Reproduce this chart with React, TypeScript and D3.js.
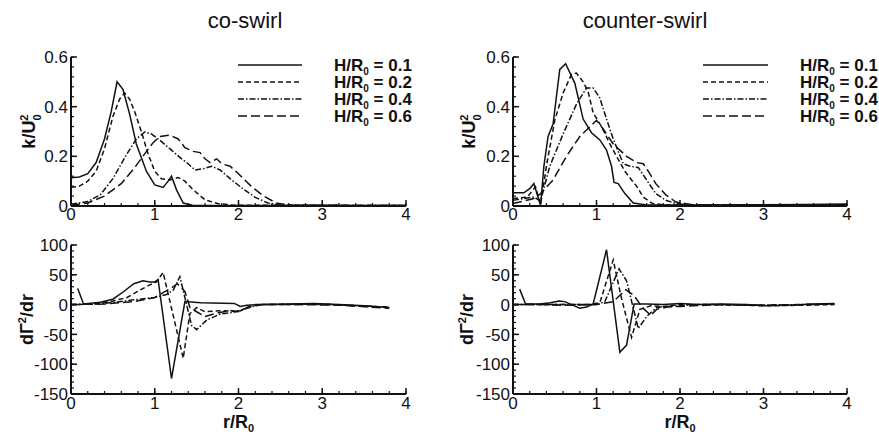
import React from "react";
import * as d3 from "d3";

type Pt = [number, number];

// panel titles, legend and axis ticks
const panelTitles = ["co-swirl", "counter-swirl"];
const legendValues = ["0.1", "0.2", "0.4", "0.6"];
const dashStyles = ["none", "5,3", "6,2,1.5,2", "9,4"];
const rTicks = [0, 1, 2, 3, 4];
const kTicks = [0, 0.2, 0.4, 0.6];
const gTicks = [-150, -100, -50, 0, 50, 100];

// co-swirl, k/U0^2 vs r/R0
const coK01: Pt[] = [[0, 0.114], [0.1, 0.117], [0.2, 0.13], [0.3, 0.175], [0.4, 0.27], [0.48, 0.38], [0.55, 0.5], [0.62, 0.47], [0.7, 0.37], [0.78, 0.25], [0.9, 0.14], [1.0, 0.085], [1.1, 0.075], [1.16, 0.1], [1.2, 0.12], [1.26, 0.065], [1.34, 0.012], [1.45, 0.003], [2, 0.002], [3, 0.002], [4, 0.002]];
const coK02: Pt[] = [[0, 0.075], [0.1, 0.08], [0.2, 0.1], [0.3, 0.14], [0.4, 0.23], [0.5, 0.36], [0.58, 0.43], [0.64, 0.455], [0.7, 0.43], [0.76, 0.38], [0.84, 0.3], [0.92, 0.21], [1.0, 0.14], [1.08, 0.11], [1.18, 0.105], [1.28, 0.115], [1.36, 0.1], [1.46, 0.065], [1.6, 0.025], [1.75, 0.01], [1.95, 0.003], [4, 0.002]];
const coK04: Pt[] = [[0, 0.007], [0.2, 0.018], [0.35, 0.045], [0.5, 0.11], [0.65, 0.2], [0.78, 0.27], [0.88, 0.298], [0.96, 0.29], [1.06, 0.265], [1.2, 0.225], [1.32, 0.19], [1.4, 0.17], [1.48, 0.145], [1.58, 0.15], [1.68, 0.16], [1.78, 0.145], [1.9, 0.11], [2.05, 0.07], [2.2, 0.035], [2.35, 0.012], [2.5, 0.003], [4, 0.002]];
const coK06: Pt[] = [[0, 0.003], [0.2, 0.012], [0.4, 0.04], [0.6, 0.09], [0.75, 0.15], [0.88, 0.21], [0.98, 0.255], [1.06, 0.28], [1.18, 0.285], [1.28, 0.27], [1.36, 0.235], [1.46, 0.22], [1.54, 0.215], [1.6, 0.19], [1.66, 0.175], [1.74, 0.19], [1.8, 0.17], [1.9, 0.16], [2.0, 0.13], [2.15, 0.08], [2.3, 0.04], [2.45, 0.012], [2.6, 0.003], [4, 0.002]];

// counter-swirl, k/U0^2 vs r/R0
const ctK01: Pt[] = [[0, 0.053], [0.13, 0.053], [0.2, 0.07], [0.25, 0.09], [0.33, 0.003], [0.37, 0.16], [0.42, 0.28], [0.48, 0.33], [0.56, 0.55], [0.63, 0.573], [0.74, 0.495], [0.84, 0.35], [0.94, 0.295], [1.04, 0.266], [1.12, 0.225], [1.18, 0.16], [1.21, 0.095], [1.26, 0.09], [1.34, 0.05], [1.44, 0.012], [1.6, 0.004], [2.5, 0.004], [3.5, 0.006], [4, 0.008]];
const ctK02: Pt[] = [[0, 0.03], [0.17, 0.036], [0.27, 0.077], [0.33, 0.005], [0.4, 0.16], [0.5, 0.345], [0.6, 0.455], [0.7, 0.53], [0.76, 0.535], [0.84, 0.5], [0.9, 0.46], [0.96, 0.375], [1.06, 0.32], [1.16, 0.25], [1.24, 0.2], [1.34, 0.14], [1.42, 0.105], [1.48, 0.08], [1.56, 0.036], [1.67, 0.01], [1.83, 0.004], [4, 0.004]];
const ctK04: Pt[] = [[0, 0.023], [0.25, 0.036], [0.33, 0.02], [0.44, 0.16], [0.6, 0.29], [0.76, 0.41], [0.88, 0.475], [0.96, 0.475], [1.04, 0.435], [1.12, 0.35], [1.2, 0.27], [1.32, 0.17], [1.4, 0.16], [1.5, 0.155], [1.6, 0.105], [1.71, 0.05], [1.83, 0.023], [1.95, 0.01], [2.15, 0.004], [4, 0.004]];
const ctK06: Pt[] = [[0, 0.01], [0.25, 0.03], [0.33, 0.05], [0.48, 0.105], [0.64, 0.2], [0.8, 0.28], [0.94, 0.325], [1.0, 0.345], [1.08, 0.31], [1.2, 0.25], [1.28, 0.225], [1.36, 0.2], [1.48, 0.175], [1.56, 0.17], [1.62, 0.14], [1.71, 0.09], [1.83, 0.045], [1.95, 0.016], [2.15, 0.005], [4, 0.004]];

// co-swirl, dGamma^2/dr vs r/R0
const coG01: Pt[] = [[0.08, 27], [0.15, 1], [0.35, 4], [0.5, 9], [0.63, 22], [0.75, 35], [0.86, 40], [0.94, 38], [1.0, 38], [1.04, 42], [1.2, -124], [1.36, 5], [1.55, 3], [1.95, 2], [2.02, -3], [2.1, -1], [2.3, 0], [2.6, 1], [2.9, 2], [3.2, 0], [3.5, -2], [3.8, -5]];
const coG02: Pt[] = [[0, 0], [0.3, 1], [0.5, 6], [0.67, 12], [0.82, 24], [0.94, 33], [1.02, 38], [1.1, 54], [1.34, -90], [1.42, -15], [1.5, -5], [1.6, -12], [1.8, -10], [2.0, -12], [2.1, -5], [2.25, 0], [2.6, 0], [3.0, 1], [3.4, -2], [3.8, -4]];
const coG04: Pt[] = [[0, 0], [0.4, 2], [0.75, 8], [1.0, 12], [1.14, 17], [1.22, 24], [1.3, 47], [1.44, -35], [1.5, -42], [1.62, -26], [1.78, -16], [1.94, -13], [2.06, -8], [2.2, -2], [2.3, 0], [2.8, 1], [3.3, -1], [3.8, -5]];
const coG06: Pt[] = [[0, 0], [0.4, 1], [0.75, 5], [1.0, 12], [1.1, 20], [1.2, 28], [1.27, 35], [1.36, 22], [1.42, -5], [1.5, -12], [1.6, -20], [1.75, -14], [1.9, -10], [2.0, -12], [2.1, -5], [2.2, 0], [2.7, 0], [3.2, -1], [3.8, -6]];

// counter-swirl, dGamma^2/dr vs r/R0
const ctG01: Pt[] = [[0.08, 26], [0.15, 1], [0.32, 1], [0.45, 3], [0.55, 6], [0.62, 5], [0.7, 0], [0.8, -6], [0.88, -4], [0.96, 1], [1.12, 92], [1.28, -80], [1.36, -68], [1.45, 1], [1.6, 1], [1.8, 0], [2.0, 2], [2.2, 0], [2.5, 1], [2.8, 0], [3.0, -2], [3.3, -1], [3.6, 1], [3.85, 2]];
const ctG02: Pt[] = [[0, 0], [0.5, 0], [0.9, 0], [1.04, 3], [1.2, 75], [1.3, 10], [1.42, -55], [1.52, -8], [1.65, -2], [1.8, -3], [2.0, 0], [2.5, 0], [3.0, -2], [3.5, -1], [3.85, 0]];
const ctG04: Pt[] = [[0, 0], [1.0, 0], [1.1, 5], [1.27, 60], [1.36, 40], [1.5, -40], [1.6, -20], [1.72, -5], [1.85, -3], [2.2, 0], [2.8, -1], [3.4, 0], [3.85, 1]];
const ctG06: Pt[] = [[0, 0], [0.3, 0], [0.6, -1], [1.0, 0], [1.2, 5], [1.35, 25], [1.45, 15], [1.55, -5], [1.65, -18], [1.72, -8], [1.85, -4], [2.0, -3], [2.5, 0], [3.0, -1], [3.5, 0], [3.85, 1]];

const FONT = "'Liberation Sans', Arial, Helvetica, sans-serif";

type PanelProps = {
  xLeft: number;
  xRight: number;
  yTop: number;
  yBottom: number;
  domain: [number, number];
  ticks: number[];
  minorStep: number;
  fmt: (v: number) => string;
  series: Pt[][];
  yLabel: "k" | "g";
  labelX: number;
  xTickBaseline: number;
  showRLabel: boolean;
};

function Panel(p: PanelProps) {
  const x = d3.scaleLinear().domain([0, 4]).range([p.xLeft, p.xRight]);
  const y = d3.scaleLinear().domain(p.domain).range([p.yBottom, p.yTop]);
  const line = d3.line<Pt>().x((d) => x(d[0])).y((d) => y(d[1]));
  const xMinor = d3.range(0, 4.0001, 0.2);
  const yMinor = d3.range(p.domain[0], p.domain[1] + 1e-9, p.minorStep);
  const yMid = (p.yTop + p.yBottom) / 2;

  return (
    <g>
      {p.series.map((s, i) => (
        <path key={i} d={line(s) || ""} fill="none" stroke="#111" strokeWidth={1.5}
          strokeDasharray={dashStyles[i] === "none" ? undefined : dashStyles[i]} />
      ))}
      {/* axes */}
      <line x1={p.xLeft} x2={p.xRight} y1={p.yBottom} y2={p.yBottom} stroke="#111" strokeWidth={2} />
      <line x1={p.xLeft} x2={p.xLeft} y1={p.yTop} y2={p.yBottom} stroke="#111" strokeWidth={2} />
      {xMinor.map((v) => (
        <line key={"xm" + v} x1={x(v)} x2={x(v)} y1={p.yBottom} y2={p.yBottom - 3} stroke="#111" strokeWidth={1.2} />
      ))}
      {yMinor.map((v) => (
        <line key={"ym" + v} x1={p.xLeft} x2={p.xLeft + 3} y1={y(v)} y2={y(v)} stroke="#111" strokeWidth={1.2} />
      ))}
      {rTicks.map((v) => (
        <g key={"xt" + v}>
          <line x1={x(v)} x2={x(v)} y1={p.yBottom} y2={p.yBottom - 6} stroke="#111" strokeWidth={1.5} />
          <text x={x(v)} y={p.xTickBaseline} textAnchor="middle" fontSize={17} fontFamily={FONT} fill="#111">{v}</text>
        </g>
      ))}
      {p.ticks.map((v) => (
        <g key={"yt" + v}>
          <line x1={p.xLeft} x2={p.xLeft + 6} y1={y(v)} y2={y(v)} stroke="#111" strokeWidth={1.5} />
          <text x={p.xLeft - 3} y={y(v)} dy="0.36em" textAnchor="end" fontSize={17} fontFamily={FONT} fill="#111">{p.fmt(v)}</text>
        </g>
      ))}
      {/* y label */}
      <g transform={`translate(${p.labelX},${yMid}) rotate(-90)`}>
        {p.yLabel === "k" ? (
          <text textAnchor="middle" fontSize={18} fontWeight="bold" fontFamily={FONT} fill="#111">
            k/U<tspan fontSize={11} dy={-7}>2</tspan><tspan fontSize={11} dx={-6} dy={13}>0</tspan>
          </text>
        ) : (
          <text textAnchor="middle" fontSize={18} fontWeight="bold" fontFamily={FONT} fill="#111">
            dΓ<tspan fontSize={11} dy={-7}>2</tspan><tspan dy={7}>/dr</tspan>
          </text>
        )}
      </g>
      {p.showRLabel && (
        <text x={x(2)} y={428} textAnchor="middle" fontSize={18} fontWeight="bold" fontFamily={FONT} fill="#111">
          r/R<tspan fontSize={11} dy={4}>0</tspan>
        </text>
      )}
    </g>
  );
}

function Legend({ lineX0, lineX1, textX }: { lineX0: number; lineX1: number; textX: number }) {
  const rowY = d3.scaleLinear().domain([0, 3]).range([65, 116]);
  return (
    <g>
      {legendValues.map((v, i) => (
        <g key={v}>
          <line x1={lineX0} x2={lineX1} y1={rowY(i)} y2={rowY(i)} stroke="#111" strokeWidth={1.5}
            strokeDasharray={dashStyles[i] === "none" ? undefined : dashStyles[i]} />
          <text x={textX} y={rowY(i) + 6} fontSize={17} fontWeight="bold" fontFamily={FONT} fill="#111">
            H/R<tspan fontSize={10} dy={4}>0</tspan><tspan dy={-4}> = {v}</tspan>
          </text>
        </g>
      ))}
    </g>
  );
}

export default function App() {
  const fmtK = (v: number) => (v === 0 ? "0" : v.toFixed(1));
  const fmtG = (v: number) => String(v);
  return (
    <svg width={879} height={435} viewBox="0 0 879 435"
      style={{ position: "absolute", left: 0, top: 0, background: "#fff" }}>
      <rect width={879} height={435} fill="#fff" />
      <text x={245} y={28} textAnchor="middle" fontSize={22} fontFamily={FONT} fill="#111">{panelTitles[0]}</text>
      <text x={645} y={28} textAnchor="middle" fontSize={22} fontFamily={FONT} fill="#111">{panelTitles[1]}</text>

      <Panel xLeft={71} xRight={406} yTop={57} yBottom={206} domain={[0, 0.6]} ticks={kTicks} minorStep={0.04}
        fmt={fmtK} series={[coK01, coK02, coK04, coK06]} yLabel="k" labelX={35} xTickBaseline={220} showRLabel={false} />
      <Panel xLeft={513} xRight={847} yTop={57} yBottom={206} domain={[0, 0.6]} ticks={kTicks} minorStep={0.04}
        fmt={fmtK} series={[ctK01, ctK02, ctK04, ctK06]} yLabel="k" labelX={475} xTickBaseline={220} showRLabel={false} />
      <Panel xLeft={71} xRight={406} yTop={245} yBottom={394} domain={[-150, 100]} ticks={gTicks} minorStep={10}
        fmt={fmtG} series={[coG01, coG02, coG04, coG06]} yLabel="g" labelX={33} xTickBaseline={409} showRLabel={true} />
      <Panel xLeft={513} xRight={847} yTop={245} yBottom={394} domain={[-150, 100]} ticks={gTicks} minorStep={10}
        fmt={fmtG} series={[ctG01, ctG02, ctG04, ctG06]} yLabel="g" labelX={473} xTickBaseline={409} showRLabel={true} />

      <Legend lineX0={238} lineX1={302} textX={334} />
      <Legend lineX0={703} lineX1={768} textX={800} />
    </svg>
  );
}
